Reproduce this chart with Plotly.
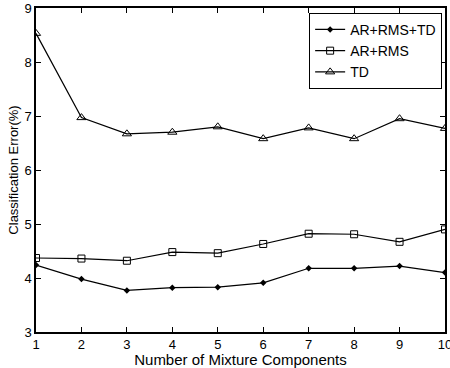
import plotly.graph_objects as go

x = list(range(1, 11))
ar_rms_td = [4.24, 3.98, 3.77, 3.82, 3.83, 3.91, 4.18, 4.18, 4.22, 4.10]
ar_rms = [4.37, 4.36, 4.32, 4.48, 4.46, 4.63, 4.82, 4.81, 4.67, 4.90]
td = [8.53, 6.97, 6.67, 6.70, 6.80, 6.58, 6.78, 6.58, 6.95, 6.77]

fig = go.Figure()
fig.add_trace(go.Scatter(x=x, y=ar_rms_td, name="AR+RMS+TD", mode="lines+markers",
                         line=dict(color="black", width=1.2),
                         marker=dict(symbol="diamond", size=5, color="black")))
fig.add_trace(go.Scatter(x=x, y=ar_rms, name="AR+RMS", mode="lines+markers",
                         line=dict(color="black", width=1.2),
                         marker=dict(symbol="square-open", size=7, color="black", line=dict(width=1))))
fig.add_trace(go.Scatter(x=x, y=td, name="TD", mode="lines+markers",
                         line=dict(color="black", width=1.2),
                         marker=dict(symbol="triangle-up-open", size=8, color="black", line=dict(width=1))))

axis_common = dict(showgrid=False, zeroline=False, showline=True, linecolor="black", linewidth=1.5,
                   mirror="ticks", ticks="inside", ticklen=5, tickcolor="black",
                   ticklabeloverflow="allow", automargin=False,
                   tickfont=dict(family="Liberation Sans, Arial", size=13, color="black"))
fig.update_layout(
    width=450, height=368,
    margin=dict(l=36, r=5, t=8, b=36, autoexpand=False),
    plot_bgcolor="white", paper_bgcolor="white",
    font=dict(family="Liberation Sans, Arial", size=13, color="black"),
    xaxis=dict(range=[1, 10], tickvals=x, title=dict(text="Number of Mixture Components", standoff=1,
               font=dict(size=15)), **axis_common),
    yaxis=dict(range=[3, 9], tickvals=[3, 4, 5, 6, 7, 8, 9], title=dict(text="Classification Error(%)", standoff=3,
               font=dict(size=13)), **axis_common),
    legend=dict(x=0.993, y=0.985, xanchor="right", yanchor="top", bordercolor="black", borderwidth=1,
                bgcolor="white", font=dict(size=14), tracegroupgap=0, itemwidth=30),
    showlegend=True,
)
fig.write_html("out.html")
